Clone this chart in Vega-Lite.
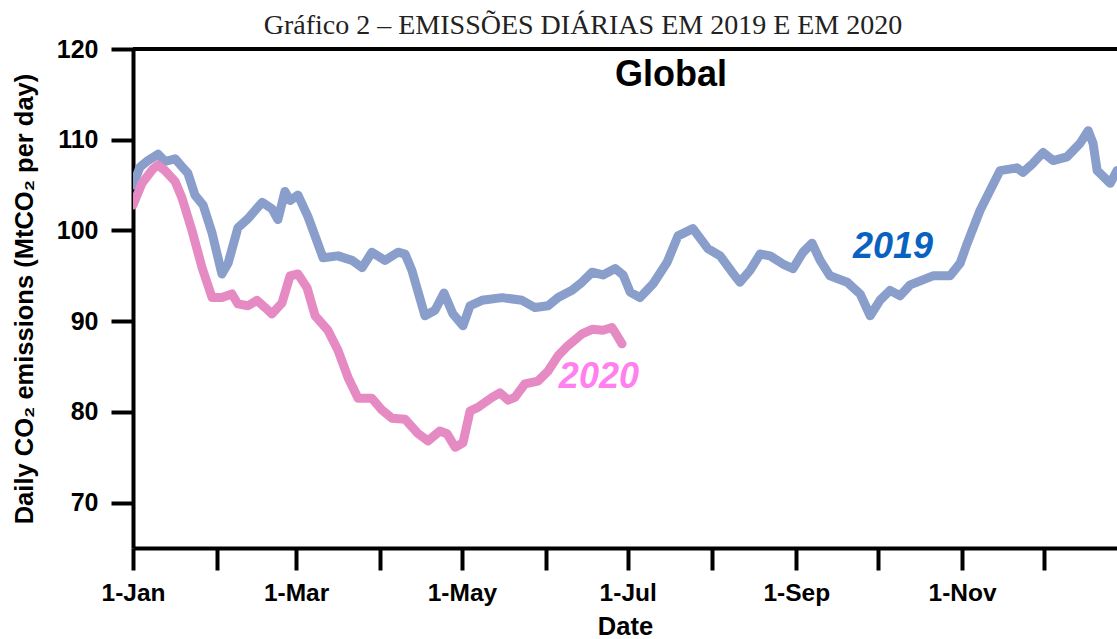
{
  "$schema": "https://vega.github.io/schema/vega-lite/v6.json",
  "width": 984,
  "height": 499,
  "autosize": {"type": "none"},
  "padding": {"left": 133, "top": 49, "right": 0, "bottom": 91},
  "background": "white",
  "title": {
    "text": "Gráfico 2 – EMISSÕES DIÁRIAS EM 2019 E EM 2020",
    "font": "Liberation Serif",
    "fontSize": 28,
    "fontWeight": "normal",
    "color": "#222222",
    "anchor": "middle",
    "dx": -42,
    "dy": 25,
    "offset": 0,
    "baseline": "alphabetic"
  },
  "config": {
    "view": {"stroke": null},
    "font": "Liberation Sans"
  },
  "datasets": {
    "emissions": [
      {"series": "2019", "day": 0, "value": 105.0},
      {"series": "2019", "day": 2.6, "value": 107.0},
      {"series": "2019", "day": 5.5, "value": 107.7},
      {"series": "2019", "day": 9.2, "value": 108.4},
      {"series": "2019", "day": 11.8, "value": 107.6},
      {"series": "2019", "day": 15.5, "value": 107.9},
      {"series": "2019", "day": 18.4, "value": 106.9},
      {"series": "2019", "day": 20.2, "value": 106.3},
      {"series": "2019", "day": 22.8, "value": 103.9},
      {"series": "2019", "day": 25.8, "value": 102.8},
      {"series": "2019", "day": 29.1, "value": 99.7},
      {"series": "2019", "day": 32.7, "value": 95.2},
      {"series": "2019", "day": 35.0, "value": 96.4},
      {"series": "2019", "day": 38.6, "value": 100.3},
      {"series": "2019", "day": 42.3, "value": 101.3},
      {"series": "2019", "day": 47.5, "value": 103.1},
      {"series": "2019", "day": 51.1, "value": 102.4},
      {"series": "2019", "day": 53.3, "value": 101.2},
      {"series": "2019", "day": 55.9, "value": 104.3},
      {"series": "2019", "day": 57.8, "value": 103.3},
      {"series": "2019", "day": 60.7, "value": 103.9},
      {"series": "2019", "day": 64.4, "value": 101.5},
      {"series": "2019", "day": 69.9, "value": 97.0},
      {"series": "2019", "day": 75.4, "value": 97.2},
      {"series": "2019", "day": 80.6, "value": 96.7},
      {"series": "2019", "day": 84.3, "value": 95.9},
      {"series": "2019", "day": 87.9, "value": 97.6},
      {"series": "2019", "day": 92.7, "value": 96.7},
      {"series": "2019", "day": 97.5, "value": 97.6},
      {"series": "2019", "day": 100.1, "value": 97.4},
      {"series": "2019", "day": 102.6, "value": 95.6},
      {"series": "2019", "day": 107.4, "value": 90.6},
      {"series": "2019", "day": 111.1, "value": 91.2},
      {"series": "2019", "day": 114.4, "value": 93.1},
      {"series": "2019", "day": 117.7, "value": 90.8},
      {"series": "2019", "day": 121.4, "value": 89.5},
      {"series": "2019", "day": 124.0, "value": 91.7},
      {"series": "2019", "day": 128.4, "value": 92.3},
      {"series": "2019", "day": 135.8, "value": 92.6},
      {"series": "2019", "day": 143.1, "value": 92.3},
      {"series": "2019", "day": 147.9, "value": 91.5},
      {"series": "2019", "day": 152.7, "value": 91.7},
      {"series": "2019", "day": 156.4, "value": 92.6},
      {"series": "2019", "day": 161.5, "value": 93.4},
      {"series": "2019", "day": 165.2, "value": 94.3},
      {"series": "2019", "day": 168.9, "value": 95.4},
      {"series": "2019", "day": 172.9, "value": 95.1},
      {"series": "2019", "day": 177.4, "value": 95.8},
      {"series": "2019", "day": 180.3, "value": 95.1},
      {"series": "2019", "day": 182.9, "value": 93.2},
      {"series": "2019", "day": 186.5, "value": 92.6},
      {"series": "2019", "day": 191.3, "value": 94.1},
      {"series": "2019", "day": 196.5, "value": 96.5},
      {"series": "2019", "day": 200.5, "value": 99.4},
      {"series": "2019", "day": 206.0, "value": 100.2},
      {"series": "2019", "day": 211.5, "value": 98.0},
      {"series": "2019", "day": 216.0, "value": 97.2},
      {"series": "2019", "day": 220.4, "value": 95.4},
      {"series": "2019", "day": 223.3, "value": 94.3},
      {"series": "2019", "day": 227.0, "value": 95.6},
      {"series": "2019", "day": 230.7, "value": 97.4},
      {"series": "2019", "day": 234.4, "value": 97.2},
      {"series": "2019", "day": 239.1, "value": 96.3},
      {"series": "2019", "day": 242.8, "value": 95.8},
      {"series": "2019", "day": 246.5, "value": 97.6},
      {"series": "2019", "day": 249.8, "value": 98.6},
      {"series": "2019", "day": 252.8, "value": 96.7},
      {"series": "2019", "day": 256.4, "value": 95.0},
      {"series": "2019", "day": 262.7, "value": 94.3},
      {"series": "2019", "day": 267.5, "value": 93.0},
      {"series": "2019", "day": 271.2, "value": 90.6},
      {"series": "2019", "day": 274.8, "value": 92.3},
      {"series": "2019", "day": 278.5, "value": 93.4},
      {"series": "2019", "day": 282.2, "value": 92.8},
      {"series": "2019", "day": 285.9, "value": 94.0},
      {"series": "2019", "day": 294.3, "value": 95.0},
      {"series": "2019", "day": 300.6, "value": 95.0},
      {"series": "2019", "day": 304.3, "value": 96.4},
      {"series": "2019", "day": 306.8, "value": 98.5},
      {"series": "2019", "day": 311.6, "value": 102.2},
      {"series": "2019", "day": 315.3, "value": 104.4},
      {"series": "2019", "day": 319.0, "value": 106.6},
      {"series": "2019", "day": 325.2, "value": 106.9},
      {"series": "2019", "day": 327.4, "value": 106.4},
      {"series": "2019", "day": 331.1, "value": 107.4},
      {"series": "2019", "day": 334.8, "value": 108.6},
      {"series": "2019", "day": 338.5, "value": 107.7},
      {"series": "2019", "day": 343.6, "value": 108.1},
      {"series": "2019", "day": 348.4, "value": 109.6},
      {"series": "2019", "day": 351.4, "value": 111.0},
      {"series": "2019", "day": 353.2, "value": 109.6},
      {"series": "2019", "day": 354.7, "value": 106.6},
      {"series": "2019", "day": 359.5, "value": 105.2},
      {"series": "2019", "day": 362.0, "value": 106.6},
      {"series": "2020", "day": 0, "value": 102.8},
      {"series": "2020", "day": 3.3, "value": 105.2},
      {"series": "2020", "day": 7.4, "value": 106.8},
      {"series": "2020", "day": 9.2, "value": 107.2},
      {"series": "2020", "day": 11.8, "value": 106.6},
      {"series": "2020", "day": 15.5, "value": 105.4},
      {"series": "2020", "day": 18.0, "value": 103.6},
      {"series": "2020", "day": 21.7, "value": 100.0},
      {"series": "2020", "day": 25.4, "value": 95.9},
      {"series": "2020", "day": 29.1, "value": 92.6},
      {"series": "2020", "day": 32.7, "value": 92.6},
      {"series": "2020", "day": 36.4, "value": 93.0},
      {"series": "2020", "day": 38.6, "value": 91.9},
      {"series": "2020", "day": 42.3, "value": 91.7},
      {"series": "2020", "day": 45.6, "value": 92.3},
      {"series": "2020", "day": 48.6, "value": 91.5},
      {"series": "2020", "day": 51.1, "value": 90.8},
      {"series": "2020", "day": 54.8, "value": 92.0},
      {"series": "2020", "day": 57.8, "value": 95.0},
      {"series": "2020", "day": 60.7, "value": 95.2},
      {"series": "2020", "day": 64.0, "value": 93.7},
      {"series": "2020", "day": 67.0, "value": 90.6},
      {"series": "2020", "day": 71.7, "value": 89.0},
      {"series": "2020", "day": 75.4, "value": 86.8},
      {"series": "2020", "day": 79.1, "value": 83.8},
      {"series": "2020", "day": 82.8, "value": 81.5},
      {"series": "2020", "day": 87.9, "value": 81.5},
      {"series": "2020", "day": 91.6, "value": 80.2},
      {"series": "2020", "day": 95.3, "value": 79.3},
      {"series": "2020", "day": 100.1, "value": 79.2},
      {"series": "2020", "day": 104.9, "value": 77.6},
      {"series": "2020", "day": 108.5, "value": 76.8},
      {"series": "2020", "day": 112.9, "value": 77.9},
      {"series": "2020", "day": 115.5, "value": 77.6},
      {"series": "2020", "day": 118.5, "value": 76.1},
      {"series": "2020", "day": 121.4, "value": 76.6},
      {"series": "2020", "day": 124.0, "value": 80.1},
      {"series": "2020", "day": 126.9, "value": 80.5},
      {"series": "2020", "day": 132.1, "value": 81.6},
      {"series": "2020", "day": 135.0, "value": 82.1},
      {"series": "2020", "day": 138.0, "value": 81.3},
      {"series": "2020", "day": 140.5, "value": 81.6},
      {"series": "2020", "day": 144.2, "value": 83.1},
      {"series": "2020", "day": 149.0, "value": 83.4},
      {"series": "2020", "day": 152.7, "value": 84.5},
      {"series": "2020", "day": 156.4, "value": 86.2},
      {"series": "2020", "day": 160.0, "value": 87.3},
      {"series": "2020", "day": 165.2, "value": 88.6},
      {"series": "2020", "day": 168.9, "value": 89.1},
      {"series": "2020", "day": 172.9, "value": 89.0},
      {"series": "2020", "day": 176.2, "value": 89.3},
      {"series": "2020", "day": 178.1, "value": 88.4},
      {"series": "2020", "day": 179.9, "value": 87.5}
    ],
    "annotations": [
      {"label": "Global", "day": 197.9, "value": 117.1},
      {"label": "2019", "day": 279.6, "value": 98.2},
      {"label": "2020", "day": 171.4, "value": 83.85}
    ]
  },
  "layer": [
    {
      "data": {"name": "emissions"},
      "mark": {"type": "line", "strokeWidth": 9, "strokeCap": "round", "strokeJoin": "round", "clip": true},
      "encoding": {
        "x": {
          "field": "day",
          "type": "quantitative",
          "title": "Date",
          "scale": {"domain": [0, 362], "nice": false, "zero": false},
          "axis": {
            "values": [0, 31, 60, 91, 121, 152, 182, 213, 244, 274, 305, 335],
            "labelExpr": "datum.value == 0 ? '1-Jan' : datum.value == 60 ? '1-Mar' : datum.value == 121 ? '1-May' : datum.value == 182 ? '1-Jul' : datum.value == 244 ? '1-Sep' : datum.value == 305 ? '1-Nov' : ''",
            "grid": false,
            "domainColor": "black",
            "domainWidth": 4,
            "tickColor": "black",
            "tickWidth": 4,
            "tickSize": 22,
            "labelPadding": 11,
            "labelFont": "Liberation Sans",
            "labelFontSize": 24.5,
            "labelFontWeight": "bold",
            "labelColor": "black",
            "labelFlush": false,
            "labelOverlap": false,
            "titleFont": "Liberation Sans",
            "titleFontSize": 25.5,
            "titleFontWeight": "bold",
            "titleColor": "black",
            "titlePadding": 10
          }
        },
        "y": {
          "field": "value",
          "type": "quantitative",
          "title": "Daily CO₂ emissions (MtCO₂ per day)",
          "scale": {"domain": [65, 120], "nice": false, "zero": false},
          "axis": {
            "values": [70, 80, 90, 100, 110, 120],
            "grid": false,
            "domainColor": "black",
            "domainWidth": 4,
            "tickColor": "black",
            "tickWidth": 4,
            "tickSize": 22,
            "labelPadding": 13,
            "labelFont": "Liberation Sans",
            "labelFontSize": 25,
            "labelFontWeight": "bold",
            "labelColor": "black",
            "labelFlush": false,
            "titleFont": "Liberation Sans",
            "titleFontSize": 25.5,
            "titleFontWeight": "bold",
            "titleColor": "black",
            "titlePadding": 19
          }
        },
        "color": {
          "field": "series",
          "type": "nominal",
          "scale": {"domain": ["2019", "2020"], "range": ["#8a9ecb", "#e68ac3"]},
          "legend": null
        }
      }
    },
    {
      "data": {"values": [{"top": 120}]},
      "mark": {"type": "rule", "strokeWidth": 4, "color": "black"},
      "encoding": {"y": {"field": "top", "type": "quantitative"}}
    },
    {
      "data": {"name": "annotations"},
      "transform": [{"filter": "datum.label == 'Global'"}],
      "mark": {"type": "text", "font": "Liberation Sans", "fontSize": 36, "fontWeight": "bold", "color": "black", "baseline": "middle", "align": "center"},
      "encoding": {
        "x": {"field": "day", "type": "quantitative"},
        "y": {"field": "value", "type": "quantitative"},
        "text": {"field": "label"}
      }
    },
    {
      "data": {"name": "annotations"},
      "transform": [{"filter": "datum.label == '2019'"}],
      "mark": {"type": "text", "font": "Liberation Sans", "fontSize": 36, "fontWeight": "bold", "fontStyle": "italic", "color": "#0a62c0", "baseline": "middle", "align": "center"},
      "encoding": {
        "x": {"field": "day", "type": "quantitative"},
        "y": {"field": "value", "type": "quantitative"},
        "text": {"field": "label"}
      }
    },
    {
      "data": {"name": "annotations"},
      "transform": [{"filter": "datum.label == '2020'"}],
      "mark": {"type": "text", "font": "Liberation Sans", "fontSize": 36, "fontWeight": "bold", "fontStyle": "italic", "color": "#ff80ee", "baseline": "middle", "align": "center"},
      "encoding": {
        "x": {"field": "day", "type": "quantitative"},
        "y": {"field": "value", "type": "quantitative"},
        "text": {"field": "label"}
      }
    }
  ]
}
